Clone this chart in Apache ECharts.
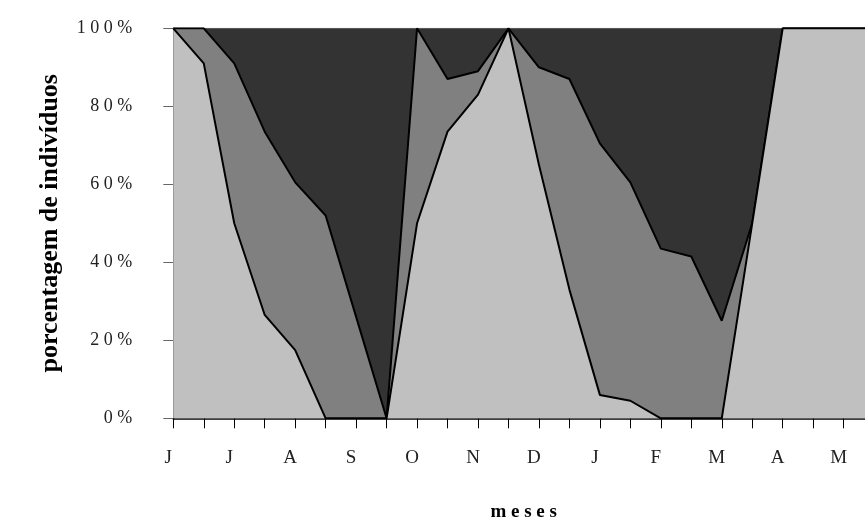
<!DOCTYPE html>
<html>
<head>
<meta charset="utf-8">
<script src="https://cdn.jsdelivr.net/npm/echarts@6/dist/echarts.min.js"></script>
<style>
html,body{margin:0;padding:0;background:#fff;}
#chart{width:865px;height:526px;}
</style>
</head>
<body>
<div id="chart"></div>
<script>
// month initials (two samples per month)
var months = ['J','J','A','S','O','N','D','J','F','M','A','M'];
// sample ids (24 fortnightly samples)
var samples = ['Jun1','Jun2','Jul1','Jul2','Ago1','Ago2','Set1','Set2','Out1','Out2','Nov1','Nov2',
               'Dez1','Dez2','Jan1','Jan2','Fev1','Fev2','Mar1','Mar2','Abr1','Abr2','Mai1','Mai2'];
// percentage values per class (stacked to 100 %)
var classLight  = [100, 91, 50, 26.5, 17.5, 0, 0, 0, 50, 73.5, 83, 100, 65, 33, 6, 4.5, 0, 0, 0, 50, 100, 100, 100, 100];
var classMedium = [0, 9, 41, 47, 43, 52, 26, 0, 50, 13.5, 6, 0, 25, 54, 64.5, 56, 43.5, 41.5, 25, 0, 0, 0, 0, 0];
var classDark   = [0, 0, 9, 26.5, 39.5, 48, 74, 100, 0, 13, 11, 0, 10, 13, 29.5, 39.5, 56.5, 58.5, 75, 50, 0, 0, 0, 0];
var yTicks = [0, 20, 40, 60, 80, 100];

var chart = echarts.init(document.getElementById('chart'));
var serif = 'Liberation Serif';
chart.setOption({
  animation: false,
  backgroundColor: '#fff',
  grid: {left: 173.3, top: 28.3, height: 390, width: 700.8, containLabel: false, outerBoundsMode: 'none'},
  xAxis: {
    type: 'category',
    data: samples,
    boundaryGap: false,
    name: 'm e s e s',
    nameLocation: 'middle',
    nameGap: 84,
    nameTextStyle: {fontFamily: serif, fontWeight: 'bold', fontSize: 19, color: '#000'},
    axisLine: {show: true, lineStyle: {color: '#000', width: 1.5}},
    axisTick: {show: true, interval: 0, length: 10, lineStyle: {color: '#000', width: 1}},
    axisLabel: {
      interval: 1,
      margin: 30,
      padding: [0, 10, 0, 0],
      fontFamily: serif, fontSize: 19, color: '#222',
      formatter: function (v, i) { return months[Math.floor(i / 2)]; }
    },
    splitLine: {show: false}
  },
  yAxis: {
    type: 'value',
    min: 0, max: 100, interval: 20,
    name: 'porcentagem de indivíduos',
    nameLocation: 'middle',
    nameGap: 110,
    nameRotate: 90,
    nameTextStyle: {fontFamily: serif, fontWeight: 'bold', fontSize: 26, color: '#000'},
    axisLine: {show: true, lineStyle: {color: '#000', width: 1.5}},
    axisTick: {show: true, length: 10, lineStyle: {color: '#666', width: 1}},
    axisLabel: {
      margin: 41,
      padding: [0, 0, 5, 0],
      fontFamily: serif, fontSize: 18, color: '#222',
      formatter: function (v) { return String(v).split('').join(' ') + ' %'; }
    },
    splitLine: {show: false}
  },
  series: [
    {
      name: 'claro', type: 'line', stack: 'total', data: classLight,
      symbol: 'none', z: 5,
      lineStyle: {color: '#000', width: 2},
      areaStyle: {color: '#c0c0c0', opacity: 1}
    },
    {
      name: 'medio', type: 'line', stack: 'total', data: classMedium,
      symbol: 'none', z: 4,
      lineStyle: {color: '#000', width: 2},
      areaStyle: {color: '#808080', opacity: 1}
    },
    {
      name: 'escuro', type: 'line', stack: 'total', data: classDark,
      symbol: 'none', z: 3,
      lineStyle: {color: '#555', width: 1},
      areaStyle: {color: '#333333', opacity: 1}
    }
  ]
});
</script>
</body>
</html>
